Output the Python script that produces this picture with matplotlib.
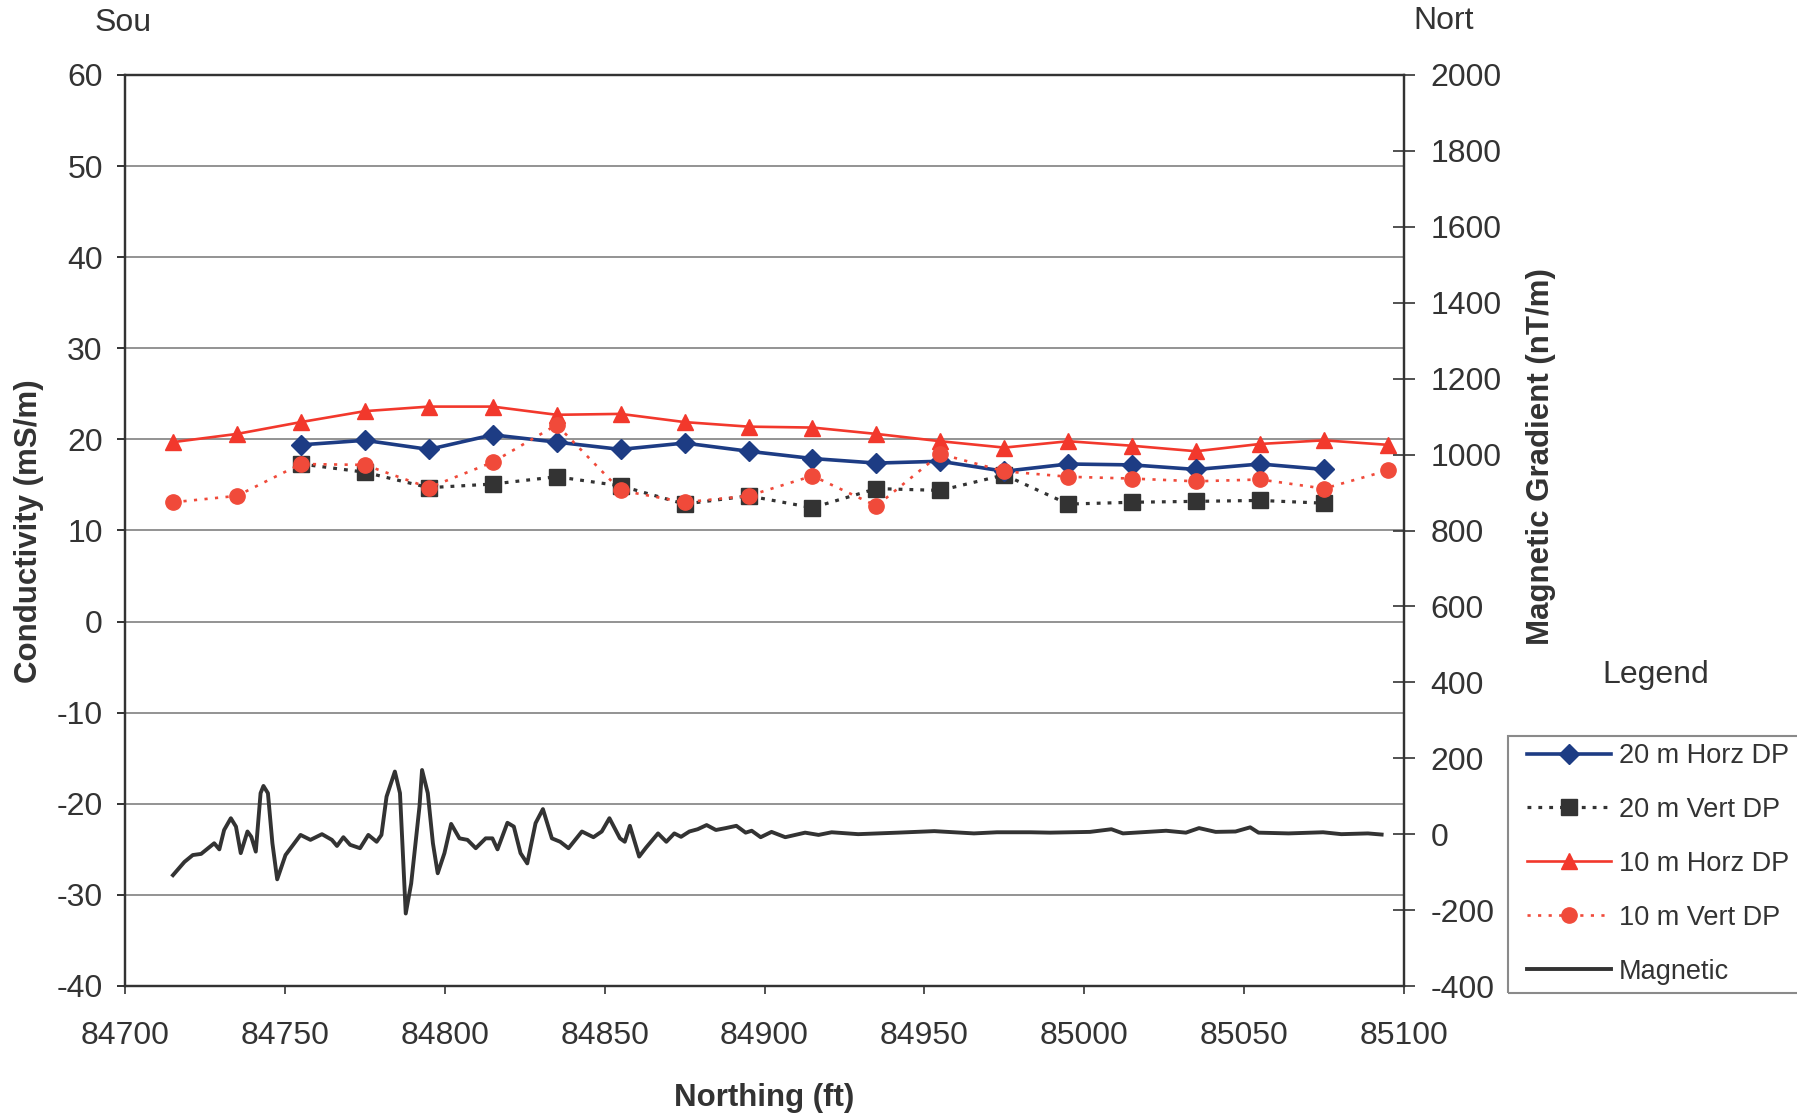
import matplotlib
matplotlib.use("Agg")
import matplotlib.pyplot as plt
from matplotlib.lines import Line2D
from matplotlib.patches import Rectangle
import numpy as np

plt.rcParams['font.family'] = ['Liberation Sans', 'DejaVu Sans']
plt.rcParams['axes.unicode_minus'] = False

# station positions (ft)
north = [84715, 84735, 84755, 84775, 84795, 84815, 84835, 84855, 84875, 84895,
         84915, 84935, 84955, 84975, 84995, 85015, 85035, 85055, 85075, 85095]

# 10 m horizontal dipole, all stations
h10 = [19.7, 20.6, 21.9, 23.1, 23.6, 23.6, 22.7, 22.8, 21.9, 21.4,
       21.3, 20.6, 19.8, 19.1, 19.8, 19.3, 18.7, 19.5, 19.9, 19.4]
# 10 m vertical dipole, all stations
v10 = [13.1, 13.8, 17.3, 17.2, 14.7, 17.5, 21.6, 14.4, 13.1, 13.8,
       16.0, 12.7, 18.4, 16.5, 15.9, 15.7, 15.4, 15.6, 14.6, 16.6]

# 20 m dipoles, stations 84755 .. 85075
north20 = north[2:19]
h20 = [19.4, 19.9, 18.9, 20.5, 19.7, 18.9, 19.6, 18.7, 17.9, 17.4,
       17.6, 16.5, 17.3, 17.2, 16.7, 17.3, 16.7]
v20 = [17.3, 16.4, 14.7, 15.1, 15.9, 14.9, 12.9, 13.8, 12.5, 14.6,
       14.4, 16.1, 12.9, 13.1, 13.2, 13.3, 13.0]

# magnetic gradient profile (nT/m)
mag_x = [84715.0, 84718.6, 84721.2, 84723.8, 84727.9, 84729.5, 84731.0, 84733.1, 84734.7, 84736.2,
         84738.3, 84739.5, 84740.9, 84742.4, 84743.3, 84744.7, 84746.1, 84747.6, 84750.2, 84754.9,
         84758.0, 84761.6, 84764.7, 84766.3, 84768.3, 84770.4, 84773.5, 84776.1, 84778.7, 84780.2,
         84781.8, 84784.4, 84786.0, 84787.0, 84787.8, 84789.5, 84792.1, 84792.9, 84794.7, 84796.3,
         84797.8, 84799.9, 84802.0, 84804.6, 84807.1, 84809.7, 84812.8, 84814.9, 84816.5, 84819.6,
         84821.6, 84823.7, 84825.8, 84828.4, 84830.7, 84833.5, 84836.1, 84838.7, 84842.9, 84846.5,
         84849.1, 84851.5, 84854.8, 84856.3, 84857.9, 84860.8, 84863.0, 84866.7, 84869.3, 84871.8,
         84873.9, 84876.5, 84879.1, 84881.9, 84884.8, 84887.9, 84891.2, 84894.1, 84896.0, 84898.8,
         84902.2, 84906.5, 84912.7, 84916.9, 84921.0, 84929.3, 84941.7, 84953.1, 84959.3, 84965.5,
         84972.7, 84983.1, 84989.3, 85001.8, 85008.5, 85012.1, 85025.6, 85031.8, 85035.9, 85041.1,
         85047.3, 85051.9, 85054.5, 85063.9, 85074.7, 85080.4, 85088.7, 85093.0]
mag_v = [-108, -73, -55, -52, -24, -40, 11, 42, 20, -50,
         7, -7, -46, 108, 127, 108, -24, -119, -55, -2,
         -15, 0, -15, -31, -8, -28, -37, -2, -20, -2,
         99, 165, 108, -68, -209, -130, 73, 169, 108, -24,
         -103, -50, 27, -11, -15, -37, -11, -11, -40, 30,
         20, -50, -77, 29, 66, -11, -20, -37, 7, -8,
         7, 42, -11, -20, 22, -59, -35, 2, -20, 2,
         -7, 7, 13, 24, 11, 16, 22, 4, 9, -8,
         6, -8, 4, -2, 5, 0, 4, 8, 5, 2,
         5, 5, 4, 6, 13, 2, 9, 4, 16, 6,
         7, 18, 4, 2, 5, 0, 2, -1]

W, H = 1797, 1116
fig = plt.figure(figsize=(W / 100, H / 100), dpi=100)
ax = fig.add_axes([125 / W, 1 - 986 / H, (1404 - 125) / W, (986 - 75) / H])

dark = '#333333'
blue = '#1d3c84'
red = '#f2382c'
red2 = '#f04a3a'

ax.plot(north, h10, color=red, lw=1.9, marker='^', ms=12, mec=red, zorder=3)
ax.plot(north20, h20, color=blue, lw=2.6, marker='D', ms=10.5, mec=blue, zorder=4)
ax.plot(north20, v20, color=dark, lw=2.3, ls=(0, (1.2, 2.2)), marker='s', ms=11, mec=dark, zorder=3)
ax.plot(north, v10, color=red2, lw=1.9, ls=(0, (1.2, 2.8)), marker='o', ms=11, mec=red2, zorder=5)

ax.set_xlim(84700, 85100)
ax.set_ylim(-40, 60)
ax.set_xticks(np.arange(84700, 85101, 50))
ax.set_yticks(np.arange(-40, 61, 10))
ax.grid(axis='y', color='#8a8a8a', lw=1.3)
ax.set_axisbelow(True)
ax.tick_params(axis='y', direction='out', length=6, width=1.4, pad=10,
               labelsize=23, colors=dark)
ax.tick_params(axis='x', direction='out', length=6, width=1.2, pad=19,
               labelsize=23, colors=dark)
for s in ax.spines.values():
    s.set_color(dark)
    s.set_linewidth(1.6)

ax2 = ax.twinx()
ax2.plot(mag_x, mag_v, color=dark, lw=2.8, zorder=3)
ax2.set_ylim(-400, 2000)
ax2.set_yticks(np.arange(-400, 2001, 200))
ax2.tick_params(axis='y', direction='inout', length=16, width=1.2, pad=11,
                labelsize=23, colors=dark)
for s in ax2.spines.values():
    s.set_color(dark)
    s.set_linewidth(1.6)

fig.text(29 / W, 1 - 531 / H, 'Conductivity (mS/m)', rotation=90, ha='center', va='center',
         fontsize=22.5, fontweight='bold', color=dark)
fig.text(1541 / W, 1 - 457 / H, 'Magnetic Gradient (nT/m)', rotation=90, ha='center', va='center',
         fontsize=22.5, fontweight='bold', color=dark)
fig.text(764 / W, 1 - 1098 / H, 'Northing (ft)', ha='center', va='center',
         fontsize=22.5, fontweight='bold', color=dark)
fig.text(123 / W, 1 - 23 / H, 'Sou', ha='center', va='center', fontsize=23, color=dark)
fig.text(1444 / W, 1 - 21 / H, 'Nort', ha='center', va='center', fontsize=23, color=dark)
fig.text(1656 / W, 1 - 675 / H, 'Legend', ha='center', va='center', fontsize=23, color=dark)

# legend box, running off the right edge like the original
fig.patches.append(Rectangle((1508 / W, 1 - 993 / H), 400 / W, (993 - 736) / H,
                             transform=fig.transFigure, fill=False, ec='#8a8a8a', lw=1.5))

handles = [
    Line2D([], [], color=blue, lw=2.6, marker='D', ms=10.5, mec=blue),
    Line2D([], [], color=dark, lw=2.3, ls=(0, (1.2, 2.2)), marker='s', ms=11, mec=dark),
    Line2D([], [], color=red, lw=1.9, marker='^', ms=12, mec=red),
    Line2D([], [], color=red2, lw=1.9, ls=(0, (1.2, 2.8)), marker='o', ms=11, mec=red2),
    Line2D([], [], color=dark, lw=2.8),
]
labels = ['20 m Horz DP', '20 m Vert DP', '10 m Horz DP', '10 m Vert DP', 'Magnetic']
fig.legend(handles, labels, loc='upper left', bbox_to_anchor=(1527 / W, 1 - 743 / H),
           frameon=False, fontsize=19.5, handlelength=3.1, handletextpad=0.3,
           borderpad=0, borderaxespad=0, labelspacing=1.03, labelcolor=dark)

fig.savefig('out.png', dpi=100)
